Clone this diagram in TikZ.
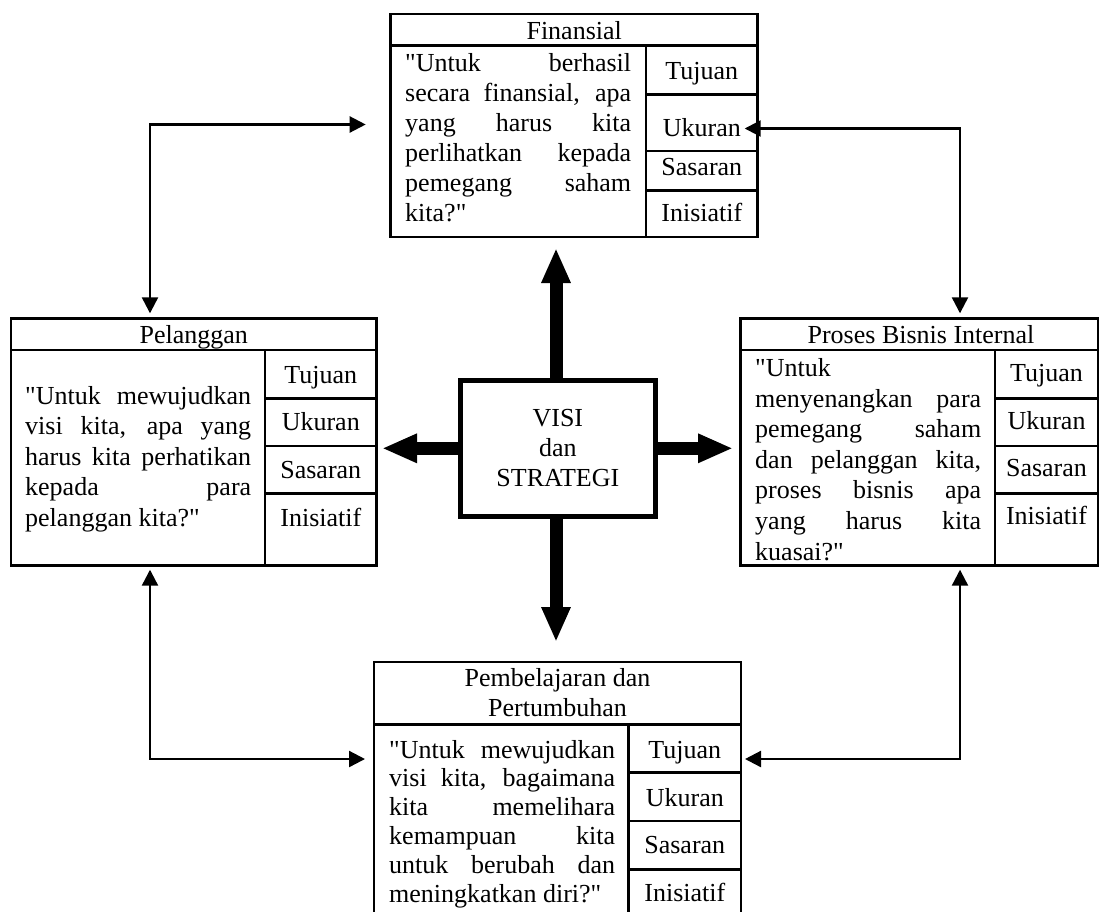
\documentclass[tikz,border=0pt]{standalone}
\usepackage{fontspec}
\setmainfont{Liberation Serif}[Ligatures=TeXOff]
\usetikzlibrary{arrows.meta}
\begin{document}
\begin{tikzpicture}[x=1pt,y=-1pt,
  box/.style={draw, line width=2.5pt, outer sep=0pt, inner sep=0pt, anchor=north west},
  rulel/.style={line width=2.5pt},
  lbl/.style={anchor=base, inner sep=0pt, font=\fontsize{26}{30}\selectfont},
  para/.style={anchor=base west, inner sep=0pt, text width=226pt, align=justify},
  conn/.style={line width=2.3pt, {Triangle[length=16pt,width=16pt]}-{Triangle[length=16pt,width=16pt]}},
  bigarr/.style={line width=13pt, -{Triangle[length=35pt,width=27pt]}},
]
\fill[white] (0,0) rectangle (1099,911);
\useasboundingbox (0,0) rectangle (1099,911);

% ---------- boxes ----------
\node[box, minimum width=367pt, minimum height=223pt] (fin) at (390.7,14) {};
\node[box, minimum width=365.7pt, minimum height=247.4pt] (pel) at (11,318.3) {};
\node[box, minimum width=357.3pt, minimum height=247.4pt] (pro) at (740.7,318.3) {};
\node[box, minimum width=367pt, minimum height=275pt] (pem) at (374,662) {};

% Finansial internals
\draw[rulel] (390.7,45.7) -- (757.7,45.7);
\draw[rulel] (646,45.7) -- (646,237);
\draw[rulel] (646,94.3) -- (757.7,94.3);
\draw[rulel] (646,151) -- (757.7,151);
\draw[rulel] (646,190.7) -- (757.7,190.7);
% Pelanggan internals
\draw[rulel] (11,350) -- (376.7,350);
\draw[rulel] (265,350) -- (265,565.7);
\draw[rulel] (265,398.3) -- (376.7,398.3);
\draw[rulel] (265,446) -- (376.7,446);
\draw[rulel] (265,493.3) -- (376.7,493.3);
% Proses internals
\draw[rulel] (740.7,350) -- (1098,350);
\draw[rulel] (995,350) -- (995,565.7);
\draw[rulel] (995,398.3) -- (1098,398.3);
\draw[rulel] (995,446) -- (1098,446);
\draw[rulel] (995,493.3) -- (1098,493.3);
% Pembelajaran internals
\draw[rulel] (374,724.3) -- (741,724.3);
\draw[rulel] (628.7,724.3) -- (628.7,937);
\draw[rulel] (628.7,772.7) -- (741,772.7);
\draw[rulel] (628.7,821) -- (741,821);
\draw[rulel] (628.7,869.3) -- (741,869.3);

% ---------- headers ----------
\node[lbl] (finH) at (574.2,39.3) {Finansial};
\node[lbl] (pelH) at (193.8,343) {Pelanggan};
\node[lbl] (proH) at (921,343) {Proses Bisnis Internal};
\node[lbl] (pemH1) at (557.5,686.7) {Pembelajaran dan};
\node[lbl] (pemH2) at (557.5,716.7) {Pertumbuhan};

% ---------- questions ----------
\node[para, font=\fontsize{26}{30}\selectfont] (finQ) at (405,71.7)
  {"Untuk berhasil\linebreak secara finansial, apa\linebreak yang harus kita\linebreak perlihatkan kepada\linebreak pemegang saham\linebreak kita?"};
\node[para, font=\fontsize{26}{30.5}\selectfont] (pelQ) at (25,404)
  {"Untuk mewujudkan\linebreak visi kita, apa yang\linebreak harus kita perhatikan\linebreak kepada para\linebreak pelanggan kita?"};
\node[para, font=\fontsize{26}{30.55}\selectfont] (proQ) at (755,376.7)
  {"Untuk\newline menyenangkan para\linebreak pemegang saham\linebreak dan pelanggan kita,\linebreak proses bisnis apa\linebreak yang harus kita\linebreak kuasai?"};
\node[para, font=\fontsize{26}{28.8}\selectfont] (pemQ) at (389,758)
  {"Untuk mewujudkan\linebreak visi kita, bagaimana\linebreak kita memelihara\linebreak kemampuan kita\linebreak untuk berubah dan\linebreak meningkatkan diri?"};

% ---------- cell labels ----------
\node[lbl] (finT) at (701.8,79) {Tujuan};
\node[lbl] (finU) at (701.8,136.7) {Ukuran};
\node[lbl] (finS) at (701.8,175.7) {Sasaran};
\node[lbl] (finI) at (701.8,221.7) {Inisiatif};

\node[lbl] (pelT) at (320.8,383.3) {Tujuan};
\node[lbl] (pelU) at (320.8,430) {Ukuran};
\node[lbl] (pelS) at (320.8,478.3) {Sasaran};
\node[lbl] (pelI) at (320.8,526.7) {Inisiatif};

\node[lbl] (proT) at (1046.5,381.7) {Tujuan};
\node[lbl] (proU) at (1046.5,429.3) {Ukuran};
\node[lbl] (proS) at (1046.5,476.7) {Sasaran};
\node[lbl] (proI) at (1046.5,524) {Inisiatif};

\node[lbl] (pemT) at (684.8,758.3) {Tujuan};
\node[lbl] (pemU) at (684.8,806.7) {Ukuran};
\node[lbl] (pemS) at (684.8,853.3) {Sasaran};
\node[lbl] (pemI) at (684.8,901.7) {Inisiatif};

% ---------- centre ----------
\coordinate (tipN) at (556,248);
\coordinate (tipS) at (556,642);
\coordinate (tipW) at (382,448.3);
\coordinate (tipE) at (733,448.3);
\draw[bigarr] (556,385) -- (tipN);
\draw[bigarr] (556,512) -- (tipS);
\draw[bigarr] (466,448.3) -- (tipW);
\draw[bigarr] (650,448.3) -- (tipE);
\node[draw, line width=5pt, fill=white, outer sep=0pt, inner sep=0pt,
      minimum width=194.3pt, minimum height=136.7pt, align=center,
      font=\fontsize{26}{30}\selectfont] (vis) at (557.85,448.35) {VISI\\dan\\STRATEGI};

% ---------- connectors ----------
\draw[conn, shorten <=25pt, shorten >=5pt] ([yshift=1pt]fin.west) -| ([xshift=-43.85pt]pel.north);
\draw[conn, shorten <=-13pt, shorten >=5pt] ([yshift=-3pt]fin.east) -| ([xshift=40.65pt]pro.north);
\draw[conn, shorten <=4pt, shorten >=9pt] ([xshift=-43.85pt]pel.south) |- ([yshift=40.5pt]pem.west);
\draw[conn, shorten <=4pt, shorten >=4pt] ([xshift=40.65pt]pro.south) |- ([yshift=40.5pt]pem.east);
\end{tikzpicture}
\end{document}
